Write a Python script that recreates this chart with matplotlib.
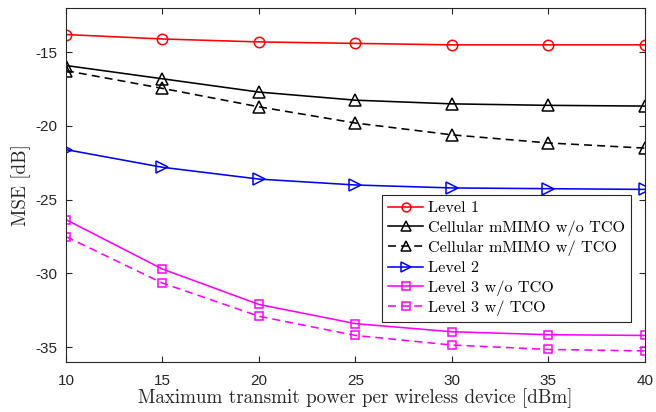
import matplotlib
matplotlib.use("Agg")
import matplotlib.pyplot as plt

# transmit power [dBm]
power = [10, 15, 20, 25, 30, 35, 40]

level1 = [-13.8, -14.1, -14.3, -14.4, -14.5, -14.5, -14.5]
cell_wo = [-15.9, -16.8, -17.7, -18.25, -18.5, -18.6, -18.65]
cell_w = [-16.25, -17.45, -18.7, -19.8, -20.6, -21.15, -21.5]
level2 = [-21.6, -22.8, -23.6, -24.0, -24.2, -24.25, -24.3]
level3_wo = [-26.35, -29.7, -32.1, -33.4, -33.95, -34.15, -34.2]
level3_w = [-27.5, -30.65, -32.9, -34.2, -34.85, -35.15, -35.25]

labels = ["Level 1", "Cellular mMIMO w/o TCO", "Cellular mMIMO w/ TCO",
          "Level 2", "Level 3 w/o TCO", "Level 3 w/ TCO"]

plt.rcParams['axes.unicode_minus'] = False

fig = plt.figure(figsize=(6.56, 4.12), dpi=100)
ax = fig.add_axes([0.1006, 0.1214, 0.8824, 0.8592])

dash = (0, (5.0, 3.2))
mk = dict(markerfacecolor='none', markeredgewidth=1.1, linewidth=1.15)
ax.plot(power, level1, color='red', marker='o', markersize=7.5, label=labels[0], **mk)
ax.plot(power, cell_wo, color='black', marker='^', markersize=8.5, label=labels[1], **mk)
ax.plot(power, cell_w, color='black', marker='^', markersize=8.5, linestyle=dash, label=labels[2], **mk)
ax.plot(power, level2, color='blue', marker='>', markersize=8.5, label=labels[3], **mk)
ax.plot(power, level3_wo, color='magenta', marker='s', markersize=6, label=labels[4], **mk)
ax.plot(power, level3_w, color='magenta', marker='s', markersize=6, linestyle=dash, label=labels[5], **mk)

ax.set_xlim(10, 40)
ax.set_ylim(-36, -12)
ax.set_xticks([10, 15, 20, 25, 30, 35, 40])
ax.set_yticks([-35, -30, -25, -20, -15])

axcol = '#262626'
for s in ax.spines.values():
    s.set_color(axcol)
    s.set_linewidth(0.8)
ax.tick_params(direction='in', top=True, right=True, length=4, width=0.8,
               colors=axcol, labelsize=11, pad=6)
ax.tick_params(axis='x', pad=9)
for t in ax.get_xticklabels() + ax.get_yticklabels():
    t.set_family('Liberation Sans')
    t.set_color(axcol)

ax.set_xlabel("Maximum transmit power per wireless device [dBm]",
              family='cmr10', fontsize=13.7, color=axcol, labelpad=0)
ax.set_ylabel("MSE [dB]", family='cmr10', fontsize=13.7, color=axcol, labelpad=3)

leg = ax.legend(loc='lower right', bbox_to_anchor=(0.976, 0.114), borderaxespad=0,
                prop={'family': 'cmr10', 'size': 11.7}, fancybox=False,
                handlelength=2.2, labelspacing=0.3, handletextpad=0.3,
                borderpad=0.35, markerscale=0.85)
leg.get_frame().set_edgecolor(axcol)
leg.get_frame().set_linewidth(0.8)
leg.get_frame().set_alpha(1)

fig.savefig("out.png", dpi=100)
